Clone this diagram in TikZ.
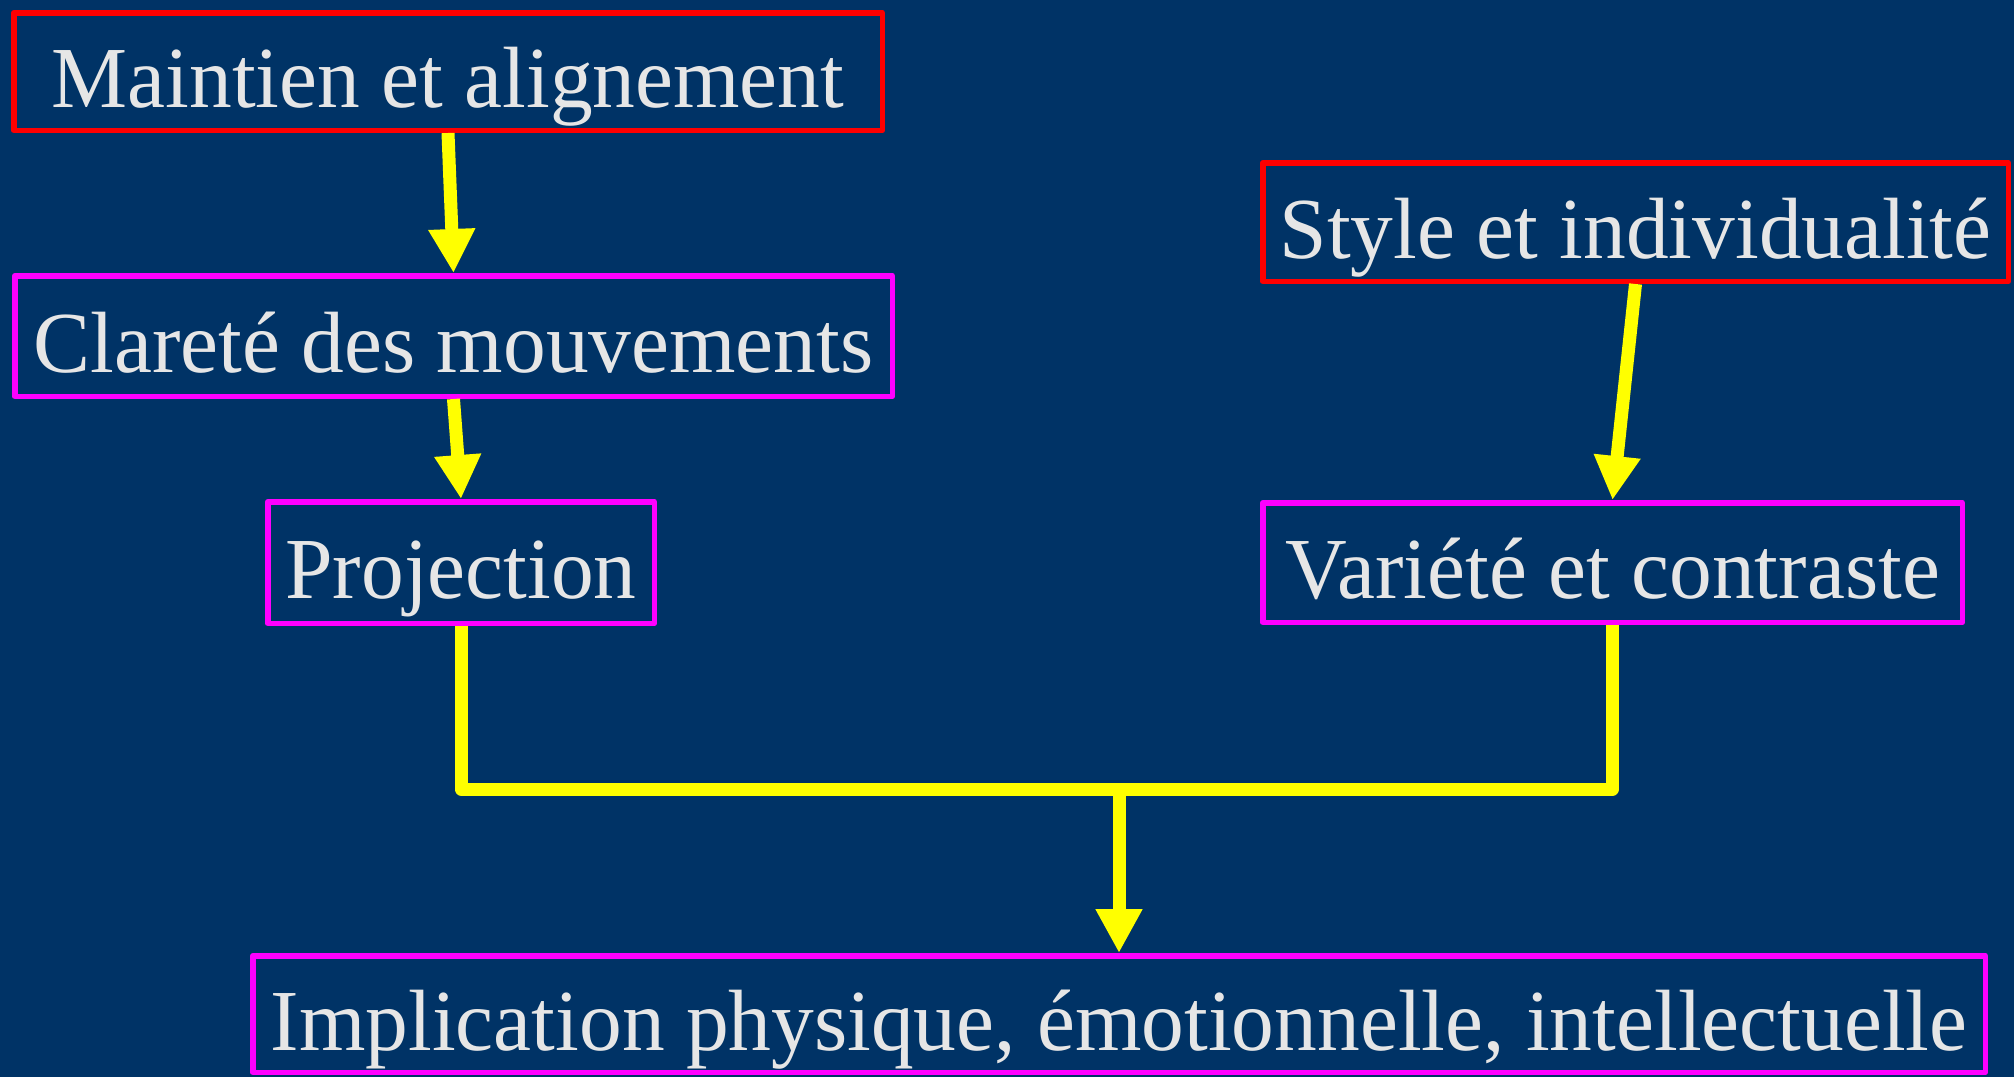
\documentclass[tikz,border=0pt]{standalone}
\usepackage{fontspec}
\setmainfont{Liberation Serif}[FakeStretch=0.982]
\usetikzlibrary{arrows.meta}
\definecolor{bgblue}{RGB}{0,51,102}
\definecolor{txtgray}{RGB}{230,230,230}
\definecolor{boxred}{RGB}{255,0,0}
\definecolor{boxmag}{RGB}{255,0,255}
\definecolor{linkyel}{RGB}{255,255,0}
\tikzset{
  box/.style={draw, line width=5.5pt, line join=round, inner sep=0pt, outer sep=2.75pt,
    text=txtgray, text height=72pt, text depth=0pt, align=center,
    font=\fontsize{87}{90}\selectfont},
  redbox/.style={box, draw=boxred},
  magbox/.style={box, draw=boxmag},
  link/.style={draw=linkyel, line width=13pt, line join=round},
  arr/.style={link, -{Triangle[width=44pt,length=44pt]}, fill=linkyel}
}
\begin{document}
\begin{tikzpicture}[x=1pt,y=-1pt]
\fill[bgblue] (0,0) rectangle (2014,1077);
\useasboundingbox (0,0) rectangle (2014,1077);
\node[redbox, minimum width=868.5pt, minimum height=117.5pt] (b1) at (448,71.5) {Maintien et alignement};
\node[magbox, minimum width=877.5pt, minimum height=120.5pt] (b2) at (453.5,336) {Clareté des mouvements};
\node[magbox, minimum width=386.5pt, minimum height=121.5pt] (b3) at (461,562.5) {Projection};
\node[redbox, minimum width=745.5pt, minimum height=118.5pt] (b4) at (1635.5,222) {Style et individualité};
\node[magbox, minimum width=699.5pt, minimum height=119.5pt] (b5) at (1612.5,562.5) {Variété et contraste};
\node[magbox, minimum width=1732.5pt, minimum height=116.5pt] (b6) at (1119,1014) {Implication physique, émotionnelle, intellectuelle};
\coordinate (j) at (b6.north |- 0,789);
\draw[arr] (b1.south) -- (b2.north);
\draw[arr] (b2.south) -- (b3.north);
\draw[arr] (b4.south) -- (b5.north);
\draw[link] (b3.south) -- (b3.south |- j) -- (b5.south |- j) -- (b5.south);
\draw[arr] (j) -- (b6.north);
\end{tikzpicture}
\end{document}
